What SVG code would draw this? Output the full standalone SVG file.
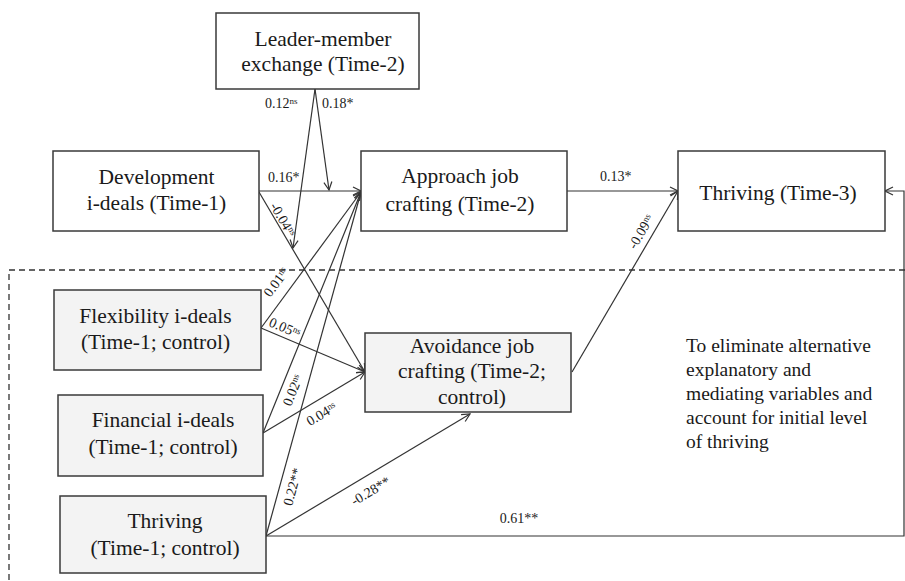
<svg xmlns="http://www.w3.org/2000/svg" width="905" height="581" viewBox="0 0 905 581">
<style>
  .box { stroke: #3a3a3a; stroke-width: 1.5; }
  .main { fill: #ffffff; }
  .ctrl { fill: #f3f3f3; }
  text { font-family: 'Liberation Serif', 'Tinos', 'Times New Roman', 'DejaVu Serif', serif; fill: #1a1a1a; }
  .nt { font-size: 21.5px; text-anchor: middle; }
  .note { font-size: 19.5px; }
  .lb { font-size: 14px; }
  .lbm { font-size: 14px; text-anchor: middle; }
  .sup { font-size: 9px; }
  .ln { stroke: #333333; stroke-width: 1.2; fill: none; }
  .arr { marker-end: url(#ah); }
</style>
<defs>
  <marker id="ah" markerWidth="10" markerHeight="10" refX="9" refY="5" orient="auto" markerUnits="userSpaceOnUse">
    <path d="M1,1 L9,5 L1,9" fill="none" stroke="#333333" stroke-width="1.2"/>
  </marker>
</defs>
<rect width="905" height="581" fill="#ffffff"/>

<g id="control-frame">
  <path d="M905,270 H9 V581" fill="none" stroke="#333333" stroke-width="1.3" stroke-dasharray="6,4"/>
</g>

<g id="connectors">
  <line class="ln arr" x1="259" y1="191" x2="361" y2="191"/>
  <line class="ln arr" x1="259" y1="192" x2="365" y2="372"/>
  <line class="ln arr" x1="315" y1="89" x2="329" y2="190"/>
  <line class="ln arr" x1="315" y1="89" x2="293" y2="248"/>
  <line class="ln arr" x1="261" y1="328" x2="361" y2="192"/>
  <line class="ln arr" x1="261" y1="328" x2="365" y2="372"/>
  <line class="ln arr" x1="263" y1="433" x2="361" y2="192"/>
  <line class="ln arr" x1="263" y1="433" x2="365" y2="372"/>
  <line class="ln arr" x1="266" y1="536" x2="361" y2="192"/>
  <line class="ln arr" x1="266" y1="536" x2="470" y2="414"/>
  <path class="ln arr" d="M266,536 H904 V191 H885"/>
  <line class="ln arr" x1="567" y1="191" x2="678" y2="191"/>
  <line class="ln arr" x1="572" y1="372" x2="678" y2="191"/>

  <text class="lb" x="265" y="108">0.12<tspan class="sup" dy="-4">ns</tspan></text>
  <text class="lb" x="322" y="108">0.18*</text>
  <text class="lb" x="268" y="182">0.16*</text>
  <text class="lb" x="600" y="181">0.13*</text>
  <text class="lbm" x="279" y="222" transform="rotate(59.5 279 222)">-0.04<tspan class="sup" dy="-4">ns</tspan></text>
  <text class="lbm" x="280" y="285" transform="rotate(-53.7 280 285)">0.01<tspan class="sup" dy="-4">ns</tspan></text>
  <text class="lbm" x="283" y="332" transform="rotate(22.9 283 332)">0.05<tspan class="sup" dy="-4">ns</tspan></text>
  <text class="lbm" x="297" y="392" transform="rotate(-67.9 297 392)">0.02<tspan class="sup" dy="-4">ns</tspan></text>
  <text class="lbm" x="324" y="418" transform="rotate(-30.9 324 418)">0.04<tspan class="sup" dy="-4">ns</tspan></text>
  <text class="lbm" x="297" y="488" transform="rotate(-74.6 297 488)">0.22**</text>
  <text class="lbm" x="373" y="495" transform="rotate(-30.9 373 495)">-0.28**</text>
  <text class="lbm" x="645" y="234" transform="rotate(-59.6 645 234)">-0.09<tspan class="sup" dy="-4">ns</tspan></text>
  <text class="lbm" x="519" y="523">0.61**</text>
</g>

<g id="lmx">
  <rect class="box main" x="216" y="13" width="203" height="76"/>
  <text class="nt" x="323" y="46">Leader-member</text>
  <text class="nt" x="323" y="71">exchange (Time-2)</text>
</g>
<g id="development">
  <rect class="box main" x="53" y="151" width="206" height="80"/>
  <text class="nt" x="156.5" y="184">Development</text>
  <text class="nt" x="156.5" y="210">i-deals (Time-1)</text>
</g>
<g id="approach">
  <rect class="box main" x="361" y="151" width="206" height="80"/>
  <text class="nt" x="460" y="183">Approach job</text>
  <text class="nt" x="460" y="211">crafting (Time-2)</text>
</g>
<g id="thriving-t3">
  <rect class="box main" x="678" y="151" width="207" height="80"/>
  <text class="nt" x="778" y="200">Thriving (Time-3)</text>
</g>
<g id="flexibility">
  <rect class="box ctrl" x="54" y="290" width="207" height="80"/>
  <text class="nt" x="155.5" y="323">Flexibility i-deals</text>
  <text class="nt" x="155.5" y="349">(Time-1; control)</text>
</g>
<g id="financial">
  <rect class="box ctrl" x="58" y="395" width="205" height="81"/>
  <text class="nt" x="163" y="427">Financial i-deals</text>
  <text class="nt" x="163" y="454">(Time-1; control)</text>
</g>
<g id="thriving-t1">
  <rect class="box ctrl" x="60" y="496" width="206" height="77"/>
  <text class="nt" x="165" y="528">Thriving</text>
  <text class="nt" x="165" y="555">(Time-1; control)</text>
</g>
<g id="avoidance">
  <rect class="box ctrl" x="365" y="333" width="206" height="79"/>
  <text class="nt" x="472" y="353">Avoidance job</text>
  <text class="nt" x="472" y="378">crafting (Time-2;</text>
  <text class="nt" x="472" y="404">control)</text>
</g>
<g id="note">
  <text class="note" x="686" y="352">To eliminate alternative</text>
  <text class="note" x="686" y="376">explanatory and</text>
  <text class="note" x="686" y="400">mediating variables and</text>
  <text class="note" x="686" y="424">account for initial level</text>
  <text class="note" x="686" y="448">of thriving</text>
</g>
</svg>
